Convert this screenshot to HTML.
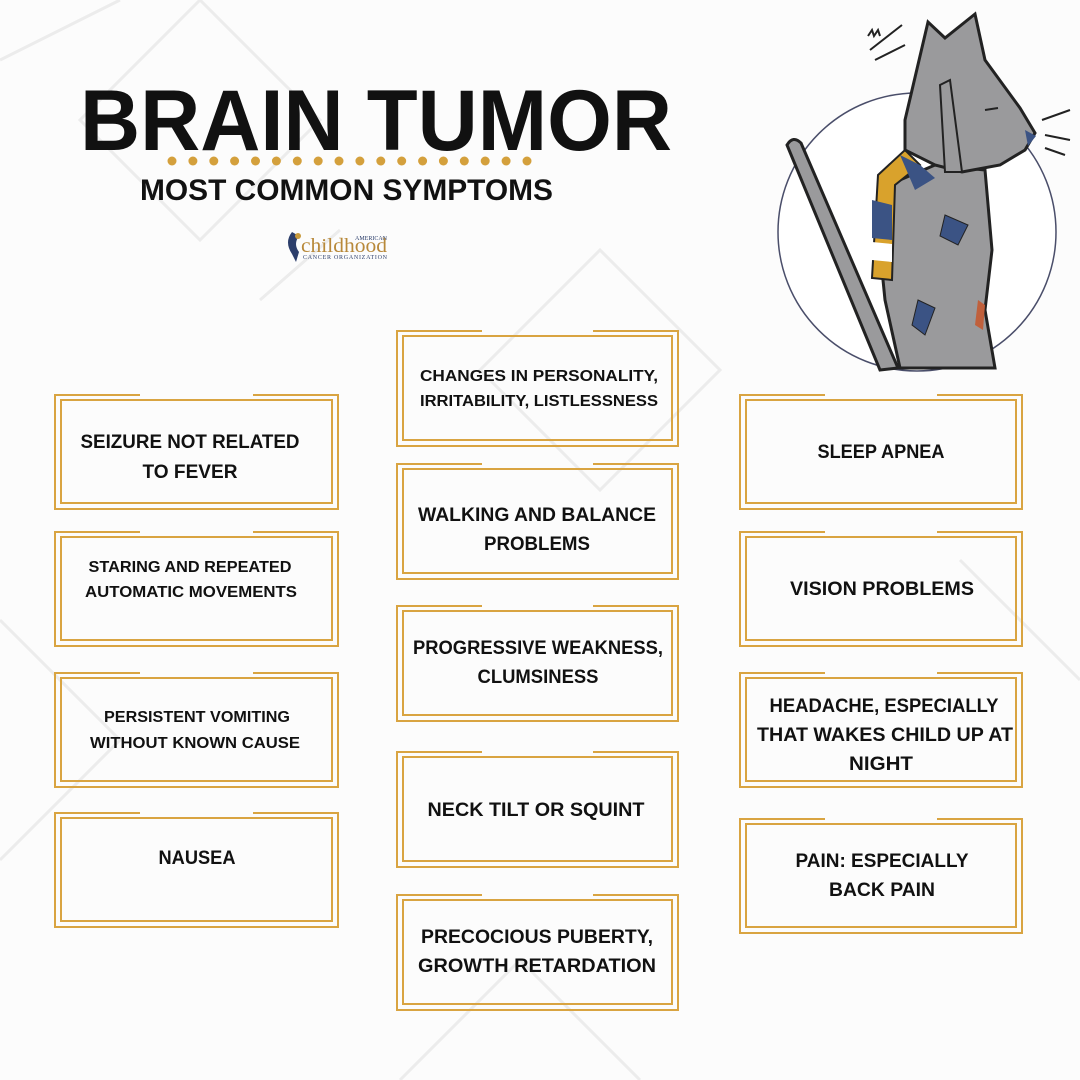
<!DOCTYPE html>
<html><head><meta charset="utf-8"><style>
html,body{margin:0;padding:0;background:#fdfdfd;}
svg{display:block;font-family:"Liberation Sans",sans-serif;font-weight:bold;}
</style></head><body>
<svg width="1080" height="1080" viewBox="0 0 1080 1080" xmlns="http://www.w3.org/2000/svg">
<rect width="1080" height="1080" fill="#fcfcfc"/>
<g fill="none" stroke="#ececec" stroke-width="3">
<path d="M0 60 L120 0 M200 0 L320 120 L200 240 L80 120 Z M600 250 L720 370 L600 490 L480 370 Z M0 620 L120 740 L0 860 M400 1080 L520 960 L640 1080 M960 560 L1080 680 M260 300 L340 230"/>
</g>
<!-- title -->
<text x="80" y="150" font-size="86" fill="#111" textLength="592" lengthAdjust="spacingAndGlyphs">BRAIN TUMOR</text>
<g fill="#d4a03c">
<circle cx="172" cy="161" r="4.5"/><circle cx="192.9" cy="161" r="4.5"/><circle cx="213.8" cy="161" r="4.5"/><circle cx="234.6" cy="161" r="4.5"/><circle cx="255.5" cy="161" r="4.5"/><circle cx="276.4" cy="161" r="4.5"/><circle cx="297.3" cy="161" r="4.5"/><circle cx="318.2" cy="161" r="4.5"/><circle cx="339" cy="161" r="4.5"/><circle cx="359.9" cy="161" r="4.5"/><circle cx="380.8" cy="161" r="4.5"/><circle cx="401.7" cy="161" r="4.5"/><circle cx="422.6" cy="161" r="4.5"/><circle cx="443.4" cy="161" r="4.5"/><circle cx="464.3" cy="161" r="4.5"/><circle cx="485.2" cy="161" r="4.5"/><circle cx="506.1" cy="161" r="4.5"/><circle cx="527" cy="161" r="4.5"/>
</g>
<text x="140" y="200" font-size="30" fill="#111" textLength="413" lengthAdjust="spacingAndGlyphs">MOST COMMON SYMPTOMS</text>
<!-- logo -->
<path d="M292 232 q-8 10 0 22 l4 8 l3 -10 q-6 -8 0 -16z" fill="#2c3e6b"/>
<circle cx="298" cy="236" r="3" fill="#c89a3c"/>
<text x="301" y="252" font-family="Liberation Serif,serif" font-weight="normal" font-size="20" fill="#b8893a" textLength="86" lengthAdjust="spacingAndGlyphs">childhood</text>
<text x="355" y="240" font-family="Liberation Serif,serif" font-weight="normal" font-size="6" fill="#2c3e6b">AMERICAN</text>
<text x="303" y="259" font-family="Liberation Serif,serif" font-weight="normal" font-size="6" fill="#2c3e6b" textLength="84">CANCER ORGANIZATION</text>
<!-- cat illustration -->
<circle cx="917" cy="232" r="139" fill="#fff" stroke="#4a4e6a" stroke-width="1.5"/>
<path d="M787 145 Q793 135 801 143 L898 368 L880 370 Z" fill="#9a9a9c" stroke="#222" stroke-width="3"/>
<path d="M888 185 L935 165 L985 170 L992 250 L985 310 L995 368 L900 368 L885 300 L878 230 Z" fill="#9a9a9c" stroke="#222" stroke-width="3"/>
<path d="M878 175 L905 150 L920 165 L895 185 L892 280 L872 278 Z" fill="#d9a22c" stroke="#222" stroke-width="2"/>
<path d="M872 200 L892 205 L892 240 L872 238 Z" fill="#3b5384"/>
<path d="M872 242 L892 244 L892 262 L872 260 Z" fill="#fff"/>
<path d="M900 155 L920 165 L935 178 L915 190 Z" fill="#3b5384"/>
<path d="M905 120 L928 22 L945 38 L975 14 L985 60 L1020 108 L1035 133 L1025 150 L1000 165 L962 172 L935 165 L905 150 Z" fill="#9a9a9c" stroke="#222" stroke-width="3"/>
<path d="M940 85 L950 80 L962 172 L945 172 Z" fill="#9a9a9c" stroke="#222" stroke-width="2"/>
<path d="M1025 130 L1036 136 L1028 146 Z" fill="#3b5384"/>
<path d="M945 215 L968 225 L958 245 L940 236 Z" fill="#3b5384" stroke="#222"/>
<path d="M918 300 L935 308 L925 335 L912 325 Z" fill="#3b5384" stroke="#222"/>
<path d="M978 300 L985 305 L983 330 L975 325 Z" fill="#c0603c"/>
<path d="M985 110 L998 108 M1042 120 L1070 110 M1045 135 L1070 140 M1045 148 L1065 155" stroke="#222" stroke-width="2"/>
<path d="M868 36 l4 -6 l2 6 l4 -6 l2 6 M870 50 L902 25 M875 60 L905 45" fill="none" stroke="#222" stroke-width="2"/>
<!-- boxes -->
<g fill="none" stroke="#d9a441" stroke-width="2">
<path d="M140 395 H55 V509 H338 V395 H253"/><rect x="61" y="400" width="271" height="103"/>
<path d="M140 532 H55 V646 H338 V532 H253"/><rect x="61" y="537" width="271" height="103"/>
<path d="M140 673 H55 V787 H338 V673 H253"/><rect x="61" y="678" width="271" height="103"/>
<path d="M140 813 H55 V927 H338 V813 H253"/><rect x="61" y="818" width="271" height="103"/>
<path d="M482 331 H397 V446 H678 V331 H593"/><rect x="403" y="336" width="269" height="104"/>
<path d="M482 464 H397 V579 H678 V464 H593"/><rect x="403" y="469" width="269" height="104"/>
<path d="M482 606 H397 V721 H678 V606 H593"/><rect x="403" y="611" width="269" height="104"/>
<path d="M482 752 H397 V867 H678 V752 H593"/><rect x="403" y="757" width="269" height="104"/>
<path d="M482 895 H397 V1010 H678 V895 H593"/><rect x="403" y="900" width="269" height="104"/>
<path d="M825 395 H740 V509 H1022 V395 H937"/><rect x="746" y="400" width="270" height="103"/>
<path d="M825 532 H740 V646 H1022 V532 H937"/><rect x="746" y="537" width="270" height="103"/>
<path d="M825 673 H740 V787 H1022 V673 H937"/><rect x="746" y="678" width="270" height="103"/>
<path d="M825 819 H740 V933 H1022 V819 H937"/><rect x="746" y="824" width="270" height="103"/>
</g>
<g fill="#111" text-anchor="middle" font-size="19">
<text x="190" y="448" textLength="219" lengthAdjust="spacingAndGlyphs">SEIZURE NOT RELATED</text>
<text x="190" y="478" textLength="95" lengthAdjust="spacingAndGlyphs">TO FEVER</text>
<text x="190" y="572" font-size="16" textLength="203" lengthAdjust="spacingAndGlyphs">STARING AND REPEATED</text>
<text x="191" y="597" font-size="16" textLength="212" lengthAdjust="spacingAndGlyphs">AUTOMATIC MOVEMENTS</text>
<text x="197" y="722" font-size="16" textLength="186" lengthAdjust="spacingAndGlyphs">PERSISTENT VOMITING</text>
<text x="195" y="748" font-size="16" textLength="210" lengthAdjust="spacingAndGlyphs">WITHOUT KNOWN CAUSE</text>
<text x="197" y="864" textLength="77" lengthAdjust="spacingAndGlyphs">NAUSEA</text>
<text x="539" y="381" font-size="16" textLength="238" lengthAdjust="spacingAndGlyphs">CHANGES IN PERSONALITY,</text>
<text x="539" y="406" font-size="16" textLength="238" lengthAdjust="spacingAndGlyphs">IRRITABILITY, LISTLESSNESS</text>
<text x="537" y="521" textLength="238" lengthAdjust="spacingAndGlyphs">WALKING AND BALANCE</text>
<text x="537" y="550" textLength="106" lengthAdjust="spacingAndGlyphs">PROBLEMS</text>
<text x="538" y="654" textLength="250" lengthAdjust="spacingAndGlyphs">PROGRESSIVE WEAKNESS,</text>
<text x="538" y="683" textLength="121" lengthAdjust="spacingAndGlyphs">CLUMSINESS</text>
<text x="536" y="816" textLength="217" lengthAdjust="spacingAndGlyphs">NECK TILT OR SQUINT</text>
<text x="537" y="943" textLength="232" lengthAdjust="spacingAndGlyphs">PRECOCIOUS PUBERTY,</text>
<text x="537" y="972" textLength="238" lengthAdjust="spacingAndGlyphs">GROWTH RETARDATION</text>
<text x="881" y="458" textLength="127" lengthAdjust="spacingAndGlyphs">SLEEP APNEA</text>
<text x="882" y="595" textLength="184" lengthAdjust="spacingAndGlyphs">VISION PROBLEMS</text>
<text x="884" y="712" textLength="229" lengthAdjust="spacingAndGlyphs">HEADACHE, ESPECIALLY</text>
<text x="885" y="741" textLength="256" lengthAdjust="spacingAndGlyphs">THAT WAKES CHILD UP AT</text>
<text x="881" y="770" textLength="64" lengthAdjust="spacingAndGlyphs">NIGHT</text>
<text x="882" y="867" textLength="173" lengthAdjust="spacingAndGlyphs">PAIN: ESPECIALLY</text>
<text x="882" y="896" textLength="106" lengthAdjust="spacingAndGlyphs">BACK PAIN</text>
</g>
</svg>
</body></html>
